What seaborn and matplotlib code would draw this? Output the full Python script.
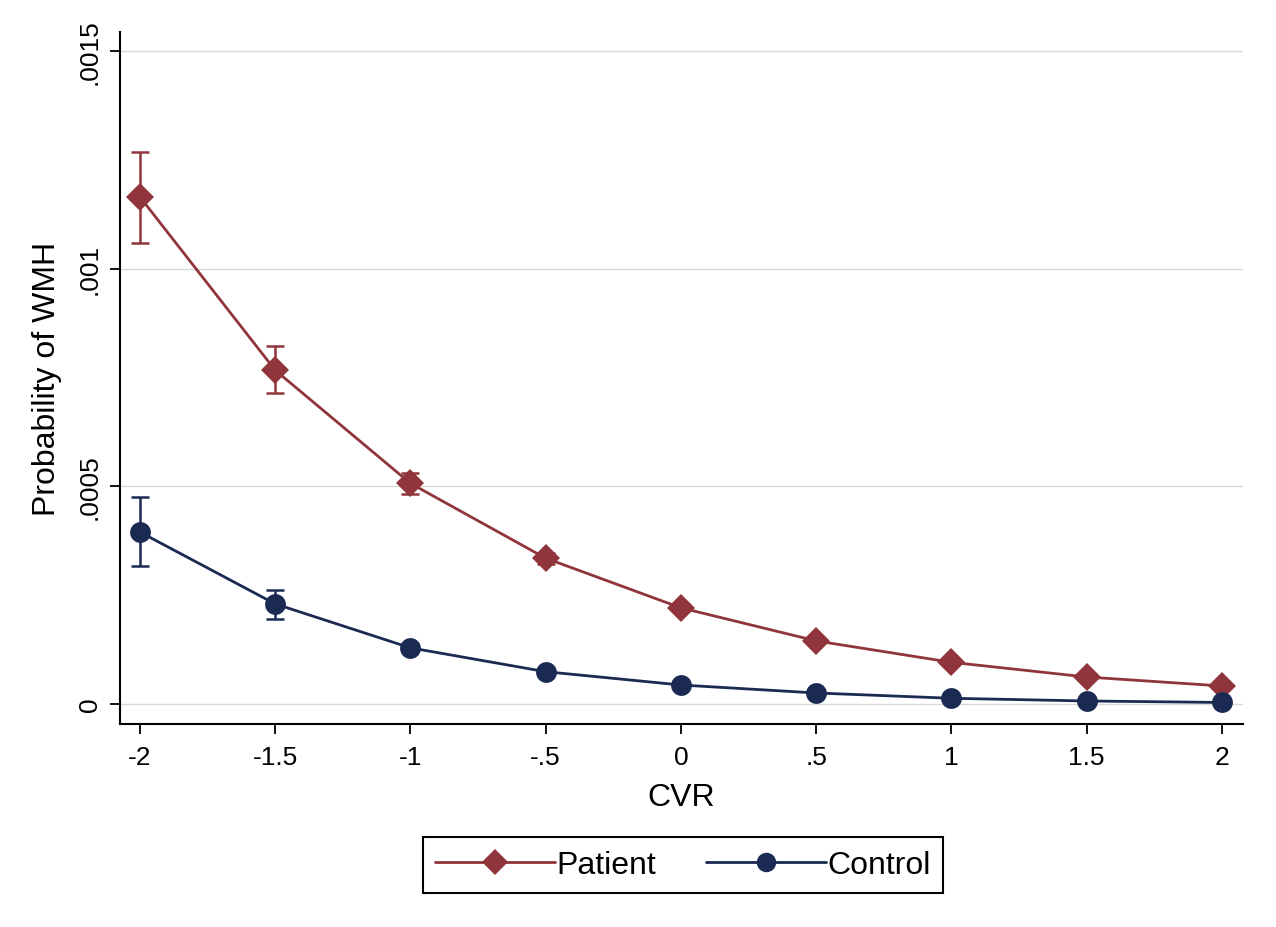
import numpy as np
import pandas as pd
import matplotlib
matplotlib.use("Agg")
import matplotlib.pyplot as plt
from matplotlib.lines import Line2D
import seaborn as sns

# ---- data ----
cvr = [-2, -1.5, -1, -0.5, 0, 0.5, 1, 1.5, 2]
patient = [0.001165, 0.000767, 0.000507, 0.000335, 0.000221, 0.000145, 0.0000958, 0.000062, 0.0000414]
patient_lo = [0.001059, 0.000714, 0.000482, 0.000322, 0.000213, 0.000139, 0.0000915, 0.000059, 0.0000392]
patient_hi = [0.001268, 0.000822, 0.000531, 0.000348, 0.000229, 0.000151, 0.0001001, 0.000065, 0.0000436]
control = [0.000395, 0.000230, 0.000129, 0.0000742, 0.0000436, 0.0000253, 0.0000131, 0.0000069, 0.0000035]
control_lo = [0.000317, 0.000195, 0.000123, 0.0000715, 0.0000420, 0.0000243, 0.0000125, 0.0000065, 0.0000032]
control_hi = [0.000476, 0.000262, 0.000135, 0.0000769, 0.0000452, 0.0000263, 0.0000137, 0.0000073, 0.0000038]
xticks = [-2, -1.5, -1, -0.5, 0, 0.5, 1, 1.5, 2]
xtick_labels = ["-2", "-1.5", "-1", "-.5", "0", ".5", "1", "1.5", "2"]
yticks = [0, 0.0005, 0.001, 0.0015]
ytick_labels = ["0", ".0005", ".001", ".0015"]
groups = ["Patient", "Control"]

sns.set_theme(style="white")
plt.rcParams["font.family"] = ["Liberation Sans", "DejaVu Sans"]
plt.rcParams["text.color"] = "black"
plt.rcParams["axes.labelcolor"] = "black"

col_p = "#90353B"
col_c = "#1B2A52"

fig = plt.figure(figsize=(12.76, 9.28), dpi=100)
ax = fig.add_axes([0.094, 0.2188, 0.880, 0.7456])

df_p = pd.DataFrame({"cvr": cvr, "prob": patient})
df_c = pd.DataFrame({"cvr": cvr, "prob": control})

# error bars
ax.errorbar(cvr, patient,
            yerr=[np.array(patient) - np.array(patient_lo), np.array(patient_hi) - np.array(patient)],
            fmt="none", ecolor=col_p, elinewidth=1.8, capsize=6.5, capthick=1.8, zorder=3)
ax.errorbar(cvr, control,
            yerr=[np.array(control) - np.array(control_lo), np.array(control_hi) - np.array(control)],
            fmt="none", ecolor=col_c, elinewidth=1.8, capsize=6.5, capthick=1.8, zorder=3)

sns.lineplot(data=df_p, x="cvr", y="prob", ax=ax, color=col_p, marker="D",
             markersize=14, markeredgecolor=col_p, markeredgewidth=0, linewidth=2.0, zorder=4)
sns.lineplot(data=df_c, x="cvr", y="prob", ax=ax, color=col_c, marker="o",
             markersize=15, markeredgecolor=col_c, markeredgewidth=0, linewidth=2.0, zorder=4)

ax.set_xlim(-2.074, 2.078)
ax.set_ylim(-0.0000459, 0.001544)
ax.set_xticks(xticks)
ax.set_xticklabels(xtick_labels)
ax.set_yticks(yticks)
ax.set_yticklabels(ytick_labels, rotation=90, va="center")

ax.grid(axis="y", color="#D9D9D9", linewidth=1.0)
ax.grid(axis="x", visible=False)
ax.set_axisbelow(True)

for s in ["top", "right"]:
    ax.spines[s].set_visible(False)
for s in ["left", "bottom"]:
    ax.spines[s].set_color("black")
    ax.spines[s].set_linewidth(1.5)

ax.tick_params(axis="both", which="major", length=7, width=1.3, color="black",
               labelsize=19, labelcolor="black", direction="out", left=True, bottom=True)
ax.tick_params(axis="x", pad=8)
ax.tick_params(axis="y", pad=6)

ax.set_xlabel("CVR", fontsize=23, color="black")
ax.set_ylabel("Probability of WMH", fontsize=23, color="black")
ax.xaxis.set_label_coords(0.5, -0.084)
ax.yaxis.set_label_coords(-0.052, 0.5)

handles = [
    Line2D([0], [0], color=col_p, marker="D", markersize=13, markeredgewidth=0, linewidth=2.0),
    Line2D([0], [0], color=col_c, marker="o", markersize=14, markeredgewidth=0, linewidth=2.0),
]
leg = fig.legend(handles, groups, loc="center", bbox_to_anchor=(683 / 1276, 1 - 866 / 928),
                 ncol=2, fontsize=23, frameon=True, fancybox=False,
                 handlelength=3.75, handletextpad=0.05, columnspacing=1.55,
                 borderpad=0.4, edgecolor="black", framealpha=1, labelcolor="black")
leg.get_frame().set_linewidth(1.5)

fig.savefig("out.png", dpi=100, facecolor="white")
